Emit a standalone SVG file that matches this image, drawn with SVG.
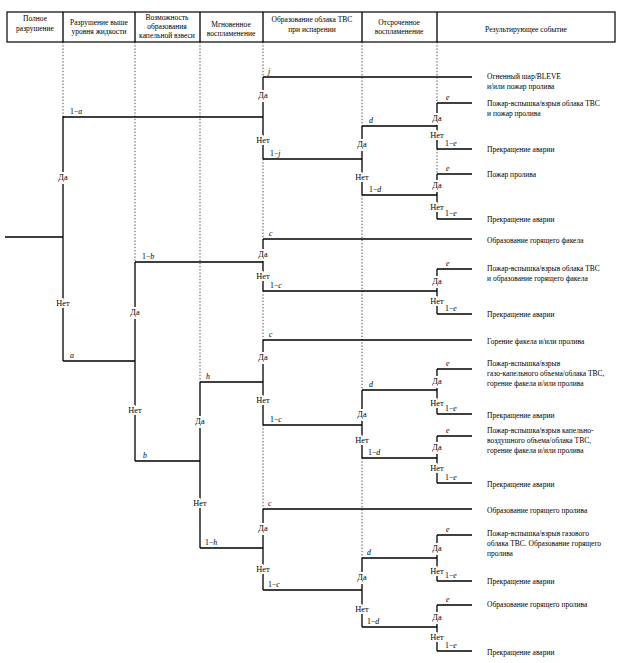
<svg xmlns="http://www.w3.org/2000/svg" width="620" height="663" viewBox="0 0 620 663">
<style>
.ln{stroke:#000;stroke-width:1.3;fill:none}
.dot{stroke:#000;stroke-width:0.7;stroke-dasharray:1.4 1.8;fill:none}
.bx{stroke:#000;stroke-width:1.2;fill:#fff}
text{font-family:"Liberation Serif","Times New Roman",serif;font-size:7.5px;fill:#000}
.hd{text-anchor:middle;font-size:7.5px}
.yn{font-size:8.3px;text-anchor:middle;dominant-baseline:central;paint-order:stroke;stroke:#fff;stroke-width:4px;stroke-linejoin:round}
.p{font-size:7.8px}
.i{font-style:italic}
</style>
<rect width="620" height="663" fill="#fff"/>
<g id="header">
<rect class="bx" x="7" y="12" width="608" height="30"/>
<path class="ln" d="M63 12V42M135 12V42M200 12V42M263 12V42M362 12V42M437 12V42" stroke-width="1"/>
<text class="hd" x="35" y="20.5">Полное</text><text class="hd" x="35" y="30.5">разрушение</text>
<text class="hd" x="99" y="24.5">Разрушение выше</text><text class="hd" x="99" y="33.5">уровня жидкости</text>
<text class="hd" x="167" y="19.5">Возможность</text><text class="hd" x="167" y="28.5">образования</text><text class="hd" x="167" y="38">капельной взвеси</text>
<text class="hd" x="231" y="26.5">Мгновенное</text><text class="hd" x="231" y="35.5">воспламенение</text>
<text class="hd" x="312" y="21.5">Образование облака ТВС</text><text class="hd" x="312" y="31.5">при испарении</text>
<text class="hd" x="399" y="24.5">Отсроченное</text><text class="hd" x="399" y="33.5">воспламенение</text>
<text class="hd" x="526" y="32">Результирующее событие</text>
</g>
<g id="guides">
<path class="dot" d="M63 42V116M135 42V262M200 42V382M263 42V77M263 159V239M263 291V340M263 425V509M362 42V126M362 195V390M362 458V558M437 42V103M437 149V174"/>
</g>
<g id="connectors">
<path class="ln" d="M5 237H63M63 117H263M63 361H135M263 77H472M263 159H362M362 126H437M362 195H437M437 103H472M437 149H472M437 174H472M437 219H472M135 262H263M135 461H200M263 239H472M263 291H437M437 269H472M437 314H472M200 382H263M200 548H263M263 340H472M263 425H362M362 390H437M362 458H437M437 369H472M437 414H472M437 436H472M437 483H472M263 509H472M263 590H362M362 558H437M362 627H437M437 535H472M437 581H472M437 605H472M437 651H472"/>
<text class="p" x="70" y="114">1−<tspan class="i">a</tspan></text>
<text class="p i" x="70" y="358">a</text>
<text class="p i" x="268" y="74">j</text>
<text class="p" x="270" y="156">1−<tspan class="i">j</tspan></text>
<text class="p i" x="369" y="123">d</text>
<text class="p" x="369" y="192">1−<tspan class="i">d</tspan></text>
<text class="p i" x="446" y="100">e</text>
<text class="p" x="445" y="146">1−<tspan class="i">e</tspan></text>
<text class="p i" x="446" y="171">e</text>
<text class="p" x="445" y="216">1−<tspan class="i">e</tspan></text>
<text class="p" x="142" y="259">1−<tspan class="i">b</tspan></text>
<text class="p i" x="143" y="458">b</text>
<text class="p i" x="269" y="236">c</text>
<text class="p" x="270" y="288">1−<tspan class="i">c</tspan></text>
<text class="p i" x="446" y="266">e</text>
<text class="p" x="445" y="311">1−<tspan class="i">e</tspan></text>
<text class="p i" x="206" y="379">h</text>
<text class="p" x="205" y="545">1−<tspan class="i">h</tspan></text>
<text class="p i" x="269" y="337">c</text>
<text class="p" x="270" y="422">1−<tspan class="i">c</tspan></text>
<text class="p i" x="369" y="387">d</text>
<text class="p" x="368" y="455">1−<tspan class="i">d</tspan></text>
<text class="p i" x="446" y="366">e</text>
<text class="p" x="445" y="411">1−<tspan class="i">e</tspan></text>
<text class="p i" x="446" y="433">e</text>
<text class="p" x="445" y="480">1−<tspan class="i">e</tspan></text>
<text class="p i" x="268" y="506">c</text>
<text class="p" x="268" y="587">1−<tspan class="i">c</tspan></text>
<text class="p i" x="367" y="555">d</text>
<text class="p" x="367" y="624">1−<tspan class="i">d</tspan></text>
<text class="p i" x="446" y="532">e</text>
<text class="p" x="445" y="578">1−<tspan class="i">e</tspan></text>
<text class="p i" x="446" y="602">e</text>
<text class="p" x="445" y="648">1−<tspan class="i">e</tspan></text>
</g>
<g id="n-full"><path class="ln" d="M63 116V361"/><text class="yn" x="63" y="177">Да</text><text class="yn" x="63" y="303">Нет</text></g>
<g id="n-j"><path class="ln" d="M263 77V159"/><text class="yn" x="263" y="95">Да</text><text class="yn" x="263" y="140">Нет</text></g>
<g id="n-d1"><path class="ln" d="M362 126V195"/><text class="yn" x="362" y="144">Да</text><text class="yn" x="362" y="177">Нет</text></g>
<g id="n-e1"><path class="ln" d="M437 103V149"/><text class="yn" x="437" y="118">Да</text><text class="yn" x="437" y="135">Нет</text></g>
<g id="n-e2"><path class="ln" d="M437 174V219"/><text class="yn" x="437" y="185">Да</text><text class="yn" x="437" y="207">Нет</text></g>
<g id="n-b"><path class="ln" d="M135 262V461"/><text class="yn" x="135" y="312">Да</text><text class="yn" x="135" y="410">Нет</text></g>
<g id="n-c1"><path class="ln" d="M263 239V291"/><text class="yn" x="263" y="254">Да</text><text class="yn" x="263" y="276">Нет</text></g>
<g id="n-e3"><path class="ln" d="M437 269V314"/><text class="yn" x="437" y="281">Да</text><text class="yn" x="437" y="301">Нет</text></g>
<g id="n-h"><path class="ln" d="M200 382V548"/><text class="yn" x="200" y="421">Да</text><text class="yn" x="200" y="503">Нет</text></g>
<g id="n-c2"><path class="ln" d="M263 340V425"/><text class="yn" x="263" y="357">Да</text><text class="yn" x="263" y="400">Нет</text></g>
<g id="n-d2"><path class="ln" d="M362 390V458"/><text class="yn" x="362" y="414">Да</text><text class="yn" x="362" y="440">Нет</text></g>
<g id="n-e4"><path class="ln" d="M437 369V414"/><text class="yn" x="437" y="381">Да</text><text class="yn" x="437" y="403">Нет</text></g>
<g id="n-e5"><path class="ln" d="M437 436V483"/><text class="yn" x="437" y="447">Да</text><text class="yn" x="437" y="468">Нет</text></g>
<g id="n-c3"><path class="ln" d="M263 509V590"/><text class="yn" x="263" y="528">Да</text><text class="yn" x="263" y="569">Нет</text></g>
<g id="n-d3"><path class="ln" d="M362 558V627"/><text class="yn" x="362" y="577">Да</text><text class="yn" x="362" y="609">Нет</text></g>
<g id="n-e6"><path class="ln" d="M437 535V581"/><text class="yn" x="437" y="548">Да</text><text class="yn" x="437" y="571">Нет</text></g>
<g id="n-e7"><path class="ln" d="M437 605V651"/><text class="yn" x="437" y="617">Да</text><text class="yn" x="437" y="637">Нет</text></g>
<g id="outcomes">
<g id="o1"><text x="487" y="78.5">Огненный шар/BLEVE</text><text x="487" y="88.5">и/или пожар пролива</text></g>
<g id="o2"><text x="487" y="105.5">Пожар-вспышка/взрыв облака ТВС</text><text x="487" y="115.5">и пожар пролива</text></g>
<g id="o3"><text x="487" y="151.5">Прекращение аварии</text></g>
<g id="o4"><text x="487" y="176.5">Пожар пролива</text></g>
<g id="o5"><text x="487" y="221.5">Прекращение аварии</text></g>
<g id="o6"><text x="487" y="242.5">Образование горящего факела</text></g>
<g id="o7"><text x="487" y="270.5">Пожар-вспышка/взрыв облака ТВС</text><text x="487" y="280.5">и образование горящего факела</text></g>
<g id="o8"><text x="487" y="316.5">Прекращение аварии</text></g>
<g id="o9"><text x="487" y="343.5">Горение факела и/или пролива</text></g>
<g id="o10"><text x="487" y="365.5">Пожар-вспышка/взрыв</text><text x="487" y="375.5">газо-капельного объема/облака ТВС,</text><text x="487" y="385.5">горение факела и/или пролива</text></g>
<g id="o11"><text x="487" y="417.5">Прекращение аварии</text></g>
<g id="o12"><text x="487" y="432.5">Пожар-вспышка/взрыв капельно-</text><text x="487" y="442.5">воздушного объема/облака ТВС,</text><text x="487" y="452.5">горение факела и/или пролива</text></g>
<g id="o13"><text x="487" y="486.5">Прекращение аварии</text></g>
<g id="o14"><text x="487" y="512.5">Образование горящего пролива</text></g>
<g id="o15"><text x="487" y="535.5">Пожар-вспышка/взрыв газового</text><text x="487" y="545.5">облака ТВС. Образование горящего</text><text x="487" y="555.5">пролива</text></g>
<g id="o16"><text x="487" y="583.5">Прекращение аварии</text></g>
<g id="o17"><text x="487" y="606.5">Образование горящего пролива</text></g>
<g id="o18"><text x="487" y="654.5">Прекращение аварии</text></g>
</g>
</svg>
